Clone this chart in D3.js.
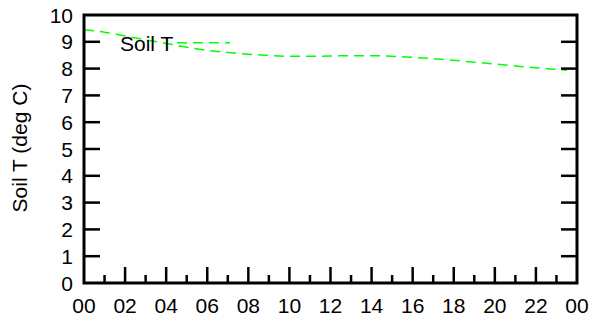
<!DOCTYPE html>
<html>
<head>
<meta charset="utf-8">
<script src="https://cdn.jsdelivr.net/npm/d3@7"></script>
<style>
html,body{margin:0;padding:0;background:#fff;}
svg{display:block;font-family:"Liberation Sans",Arial,sans-serif;}
</style>
</head>
<body>
<svg id="chart" width="593" height="320"></svg>
<script>
const hours = [0,1,2,3,4,5,6,7,8,9,10,11,12,13,14,15,16,17,18,19,20,21,22,23,23.5];
const soilT = [9.45,9.36,9.22,9.07,8.94,8.80,8.68,8.60,8.54,8.49,8.46,8.46,8.47,8.48,8.48,8.46,8.42,8.37,8.31,8.24,8.17,8.10,8.03,7.97,7.94];
const xTickLabels = ["00","02","04","06","08","10","12","14","16","18","20","22","00"];
const yTicks = [0,1,2,3,4,5,6,7,8,9,10];
const seriesName = "Soil T";
const yTitle = "Soil T (deg C)";

const svg = d3.select("#chart");
const L = 84, R = 577, T = 15, B = 283;
const FS = 21;
const x = d3.scaleLinear().domain([0,24]).range([L,R]);
const y = d3.scaleLinear().domain([0,10]).range([B,T]);

// line
const line = d3.line().x((d,i)=>x(hours[i])).y(d=>y(d)).curve(d3.curveMonotoneX);
svg.append("path").datum(soilT).attr("d",line)
  .attr("fill","none").attr("stroke","#00ff00").attr("stroke-width",1.5)
  .attr("stroke-dasharray","10,6");

// frame
svg.append("rect").attr("x",L).attr("y",T).attr("width",R-L).attr("height",B-T)
  .attr("fill","none").attr("stroke","#000").attr("stroke-width",3);

// x ticks
const xt = d3.range(1,24);
svg.selectAll(".xt").data(xt).enter().append("line")
  .attr("x1",d=>x(d)).attr("x2",d=>x(d))
  .attr("y1",B).attr("y2",d=>d%2===0?B-16:B-8)
  .attr("stroke","#000").attr("stroke-width",2.5);
svg.selectAll(".xl").data(xTickLabels).enter().append("text")
  .attr("x",(d,i)=>x(i*2)).attr("y",313).attr("text-anchor","middle")
  .attr("font-size",FS).text(d=>d);

// y ticks
svg.selectAll(".ytl").data(yTicks.slice(1,10)).enter().append("line")
  .attr("x1",L).attr("x2",L+16).attr("y1",d=>y(d)).attr("y2",d=>y(d))
  .attr("stroke","#000").attr("stroke-width",2.5);
svg.selectAll(".ytr").data(yTicks.slice(1,10)).enter().append("line")
  .attr("x1",R).attr("x2",R-16).attr("y1",d=>y(d)).attr("y2",d=>y(d))
  .attr("stroke","#000").attr("stroke-width",2.5);
svg.selectAll(".yl").data(yTicks).enter().append("text")
  .attr("x",73).attr("y",d=>y(d)+7.5).attr("text-anchor","end")
  .attr("font-size",FS).text(d=>d);

// y title
svg.append("text").attr("transform","translate(27,148) rotate(-90)")
  .attr("text-anchor","middle").attr("font-size",FS).text(yTitle);

// legend
svg.append("text").attr("x",120).attr("y",51).attr("font-size",FS).text(seriesName);
svg.append("line").attr("x1",177).attr("x2",230).attr("y1",y(8.96)).attr("y2",y(8.96))
  .attr("stroke","#00ff00").attr("stroke-width",1.5).attr("stroke-dasharray","10,6");
</script>
</body>
</html>
